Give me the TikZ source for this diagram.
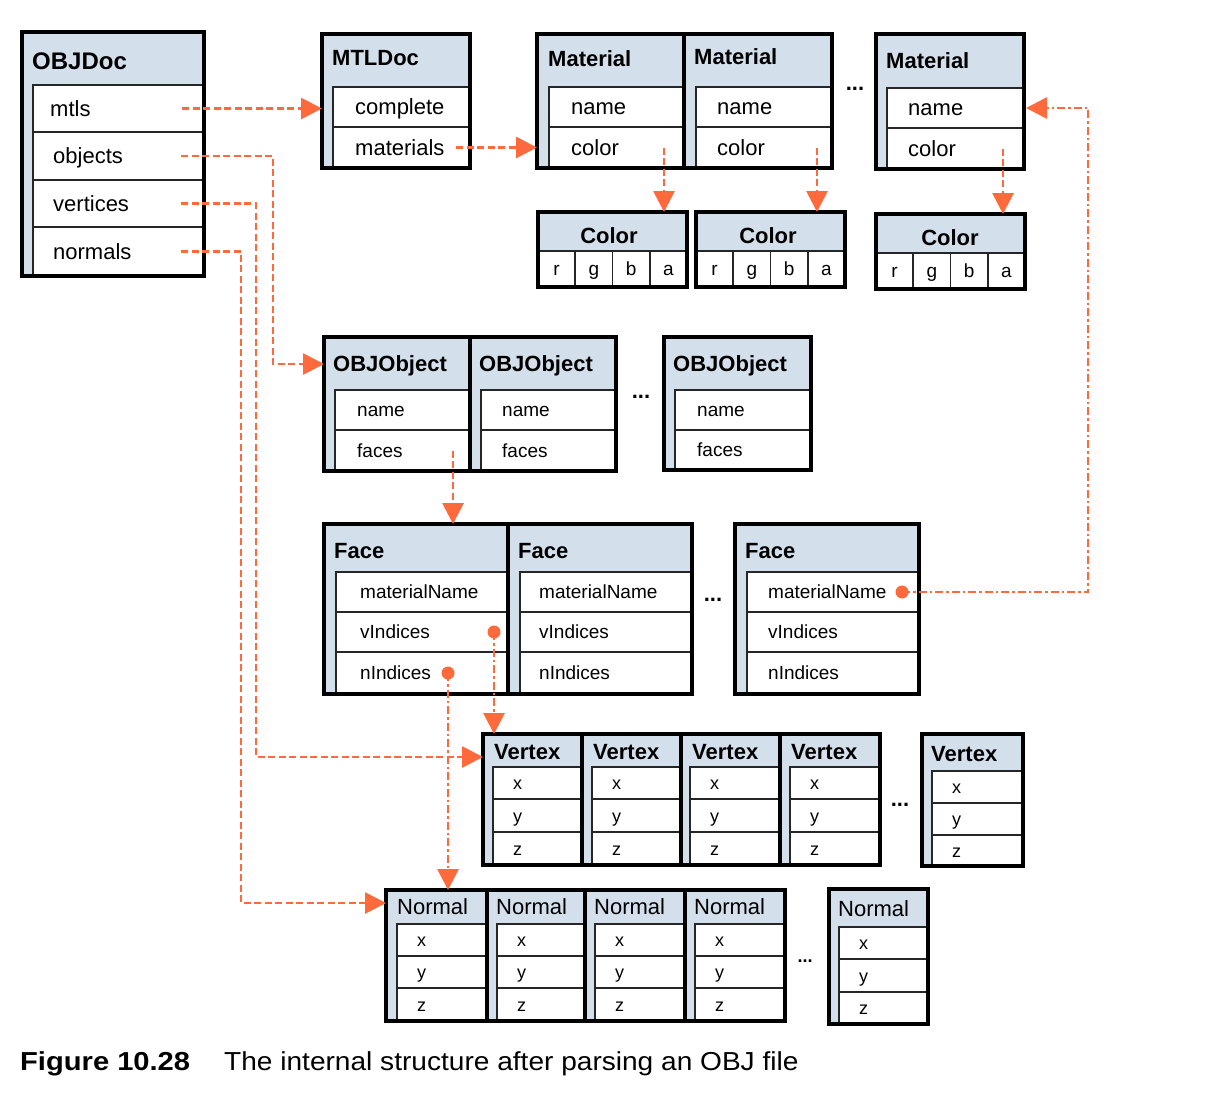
\documentclass[tikz,border=0pt]{standalone}
\usepackage{fontspec}
\setmainfont{Liberation Sans}
\usetikzlibrary{arrows.meta,fit}
\definecolor{hdr}{HTML}{D3DFEB}
\definecolor{ptrc}{HTML}{FF6A3D}
\newcommand\szA{\fontsize{22}{26}\selectfont}
\newcommand\szB{\fontsize{19}{23}\selectfont}
\newcommand\szC{\fontsize{18}{22}\selectfont}
\tikzset{
  recbox/.style={fill=hdr, draw=black, line width=3.2pt, inner sep=0pt, outer sep=0pt},
  recline/.style={draw=black, line width=3.2pt},
  cellbox/.style={fill=white, draw=black!85, line width=1.8pt, inner sep=0pt, outer sep=0pt},
  tA/.style={font=\szA, inner sep=0pt, text height=15.8pt, text depth=0pt},
  tB/.style={font=\szB, inner sep=0pt, text height=13.7pt, text depth=0pt},
  tC/.style={font=\szC, inner sep=0pt, text height=13pt, text depth=0pt},
  ttl/.style={font=\szA\bfseries, inner sep=0pt, text height=15.8pt, text depth=0pt, anchor=west},
  ttlr/.style={tA, anchor=west},
  ctrb/.style={font=\szA\bfseries, inner sep=0pt, text height=15.8pt, text depth=0pt},
  ellip/.style={font=\szA\bfseries, inner sep=0pt},
  ptr/.style={draw=ptrc, line width=2.8pt, dash pattern=on 7pt off 3.5pt, -{Triangle[length=21pt,width=21pt]}},
  ptrdd/.style={draw=ptrc, line width=2.8pt, dash pattern=on 8pt off 3pt on 2.5pt off 3pt, -{Triangle[length=21pt,width=21pt]}},
  pdot/.style={circle, fill=ptrc, minimum size=13pt, inner sep=0pt, outer sep=0pt},
}
% record box: name x1 y1 x2 y2
\newcommand\rbox[5]{\node[recbox, fit={(#2,#3)(#4,#5)}] (#1) {};}
% border overlay
\newcommand\rline[1]{\draw[recline] (#1.north west) rectangle (#1.south east);}
% field cell: name x1 y1 x2 y2 indent textstyle text
\newcommand\fcell[8]{\node[cellbox, fit={(#2,#3)(#4,#5)}] (#1) {};
  \node[#7, anchor=west] (#1t) at ([xshift=#6pt]#1.west) {#8};}
% centred cell: name x1 y1 x2 y2 text
\newcommand\ccell[6]{\node[cellbox, fit={(#2,#3)(#4,#5)}] (#1) {};
  \node[tB] (#1t) at (#1.center) {#6};}
% vertex/normal fields: prefix x1 y1 x2 y2 yh y1r y2r inner-left
\newcommand\xyz[9]{%
  \fcell{#1x}{#9}{#6}{#4}{#7}{20}{tC}{x}
  \fcell{#1y}{#9}{#7}{#4}{#8}{20}{tC}{y}
  \fcell{#1z}{#9}{#8}{#4}{#5}{20}{tC}{z}}
\begin{document}
\begin{tikzpicture}[x=1pt,y=-1pt]
\useasboundingbox (0,0) rectangle (1230,1104);

% ---------------- OBJDoc
\rbox{objdoc}{22}{32}{204}{276}
\node[ttl, font=\fontsize{24}{28}\selectfont\bfseries, text height=17.3pt] (objdoct) at (32,61) {OBJDoc};
\fcell{mtls}{33}{85}{204}{132}{17}{tA}{mtls}
\fcell{objects}{33}{132}{204}{180}{20}{tA}{objects}
\fcell{vertices}{33}{180}{204}{227}{20}{tA}{vertices}
\fcell{normals}{33}{227}{204}{276}{20}{tA}{normals}
\rline{objdoc}

% ---------------- MTLDoc
\rbox{mtldoc}{322}{34}{470}{168}
\node[ttl] (mtldoct) at (332,58) {MTLDoc};
\fcell{complete}{333}{87}{470}{127}{22}{tA}{complete}
\fcell{materials}{333}{127}{470}{168}{22}{tA}{materials}
\rline{mtldoc}

% ---------------- Materials
\rbox{mat1}{537}{34}{684}{168}
\node[ttl] (mat1t) at (548,59) {Material};
\fcell{m1name}{549}{87}{684}{127}{22}{tA}{name}
\fcell{m1color}{549}{127}{684}{168}{22}{tA}{color}
\rline{mat1}
\rbox{mat2}{684}{34}{832}{168}
\node[ttl] (mat2t) at (694,57) {Material};
\fcell{m2name}{696}{87}{832}{127}{21}{tA}{name}
\fcell{m2color}{696}{127}{832}{168}{21}{tA}{color}
\rline{mat2}
\node[ellip] (mdots) at (855,89) {...};
\rbox{mat3}{876}{34}{1024}{169}
\node[ttl] (mat3t) at (886,61) {Material};
\fcell{m3name}{887}{88}{1024}{128}{21}{tA}{name}
\fcell{m3color}{887}{128}{1024}{169}{21}{tA}{color}
\rline{mat3}

% ---------------- Colors
\rbox{col1}{538}{212}{687}{287}
\node[ctrb] (col1t) at (609,236) {Color};
\ccell{c1r}{538}{251}{575.25}{287}{r}
\ccell{c1g}{575.25}{251}{612.5}{287}{g}
\ccell{c1b}{612.5}{251}{649.75}{287}{b}
\ccell{c1a}{649.75}{251}{687}{287}{a}
\rline{col1}
\rbox{col2}{696}{212}{845}{287}
\node[ctrb] (col2t) at (768,236) {Color};
\ccell{c2r}{696}{251}{733.25}{287}{r}
\ccell{c2g}{733.25}{251}{770.5}{287}{g}
\ccell{c2b}{770.5}{251}{807.75}{287}{b}
\ccell{c2a}{807.75}{251}{845}{287}{a}
\rline{col2}
\rbox{col3}{876}{214}{1025}{289}
\node[ctrb] (col3t) at (950,238) {Color};
\ccell{c3r}{876}{253}{913.25}{289}{r}
\ccell{c3g}{913.25}{253}{950.5}{289}{g}
\ccell{c3b}{950.5}{253}{987.75}{289}{b}
\ccell{c3a}{987.75}{253}{1025}{289}{a}
\rline{col3}

% ---------------- OBJObjects
\rbox{ob1}{324}{337}{470}{471}
\node[ttl] (ob1t) at (333,364) {OBJObject};
\fcell{o1name}{335}{390}{470}{430}{22}{tB}{name}
\fcell{o1faces}{335}{430}{470}{471}{22}{tB}{faces}
\rline{ob1}
\rbox{ob2}{470}{337}{616}{471}
\node[ttl] (ob2t) at (479,364) {OBJObject};
\fcell{o2name}{481}{390}{616}{430}{21}{tB}{name}
\fcell{o2faces}{481}{430}{616}{471}{21}{tB}{faces}
\rline{ob2}
\node[ellip] (odots) at (641,397) {...};
\rbox{ob3}{664}{337}{811}{470}
\node[ttl] (ob3t) at (673,364) {OBJObject};
\fcell{o3name}{675}{390}{811}{430}{22}{tB}{name}
\fcell{o3faces}{675}{430}{811}{470}{22}{tB}{faces}
\rline{ob3}

% ---------------- Faces
\rbox{f1}{324}{524}{508}{694}
\node[ttl] (f1t) at (334,551) {Face};
\fcell{f1m}{336}{572}{508}{612}{24}{tB}{materialName}
\fcell{f1v}{336}{612}{508}{652}{24}{tB}{vIndices}
\fcell{f1n}{336}{652}{508}{694}{24}{tB}{nIndices}
\rline{f1}
\rbox{f2}{508}{524}{692}{694}
\node[ttl] (f2t) at (518,551) {Face};
\fcell{f2m}{520}{572}{692}{612}{19}{tB}{materialName}
\fcell{f2v}{520}{612}{692}{652}{19}{tB}{vIndices}
\fcell{f2n}{520}{652}{692}{694}{19}{tB}{nIndices}
\rline{f2}
\node[ellip] (fdots) at (713,600) {...};
\rbox{f3}{735}{524}{919}{694}
\node[ttl] (f3t) at (745,551) {Face};
\fcell{f3m}{747}{572}{919}{612}{21}{tB}{materialName}
\fcell{f3v}{747}{612}{919}{652}{21}{tB}{vIndices}
\fcell{f3n}{747}{652}{919}{694}{21}{tB}{nIndices}
\rline{f3}

% ---------------- Vertices
\rbox{v1}{483}{734}{582}{865}
\node[ttl] (v1t) at (494,752) {Vertex}; \xyz{v1}{483}{734}{582}{865}{767}{799}{832}{493}
\rline{v1}
\rbox{v2}{582}{734}{681}{865}
\node[ttl] (v2t) at (593,752) {Vertex}; \xyz{v2}{582}{734}{681}{865}{767}{799}{832}{592}
\rline{v2}
\rbox{v3}{681}{734}{780}{865}
\node[ttl] (v3t) at (692,752) {Vertex}; \xyz{v3}{681}{734}{780}{865}{767}{799}{832}{690}
\rline{v3}
\rbox{v4}{780}{734}{880}{865}
\node[ttl] (v4t) at (791,752) {Vertex}; \xyz{v4}{780}{734}{880}{865}{767}{799}{832}{790}
\rline{v4}
\node[ellip] (vdots) at (900,805) {...};
\rbox{v5}{922}{734}{1023}{866}
\node[ttl] (v5t) at (931,754) {Vertex}; \xyz{v5}{922}{734}{1023}{866}{771}{803}{835}{932}
\rline{v5}

% ---------------- Normals
\rbox{n1}{386}{890}{487}{1021}
\node[ttlr] (n1t) at (397,907) {Normal}; \xyz{n1}{386}{890}{487}{1021}{924}{956}{988}{397}
\rline{n1}
\rbox{n2}{487}{890}{585}{1021}
\node[ttlr] (n2t) at (496,907) {Normal}; \xyz{n2}{487}{890}{585}{1021}{924}{956}{988}{497}
\rline{n2}
\rbox{n3}{585}{890}{685}{1021}
\node[ttlr] (n3t) at (594,907) {Normal}; \xyz{n3}{585}{890}{685}{1021}{924}{956}{988}{595}
\rline{n3}
\rbox{n4}{685}{890}{785}{1021}
\node[ttlr] (n4t) at (694,907) {Normal}; \xyz{n4}{685}{890}{785}{1021}{924}{956}{988}{695}
\rline{n4}
\node[font=\szC\bfseries, inner sep=0pt] (ndots) at (805,961) {...};
\rbox{n5}{829}{889}{928}{1024}
\node[ttlr] (n5t) at (838,909) {Normal}; \xyz{n5}{829}{889}{928}{1024}{927}{959}{992}{839}
\rline{n5}

% ---------------- connectors
\coordinate (mtlsS) at ([xshift=-22pt]mtls.east);
\draw[ptr] (mtlsS) -- (mtldoc.west |- mtlsS);
\coordinate (matS) at ([xshift=-14pt]materials.east);
\draw[ptr] (matS) -- (mat1.west |- matS);
\coordinate (c1S) at ([xshift=-20pt]m1color.east);
\draw[ptr] (c1S) -- (c1S |- col1.north);
\coordinate (c2S) at ([xshift=-15pt]m2color.east);
\draw[ptr] (c2S) -- (c2S |- col2.north);
\coordinate (c3S) at ([xshift=-21pt]m3color.east);
\draw[ptr] (c3S) -- (c3S |- col3.north);

\coordinate (objS) at ([xshift=-23pt]objects.east);
\coordinate (objB) at (273,364);
\draw[ptr] (objS) -| (objB) -- (ob1.west |- objB);
\coordinate (vtxS) at ([xshift=-23pt]vertices.east);
\coordinate (vtxB) at (256,757);
\draw[ptr] (vtxS) -| (vtxB) -- (v1.west |- vtxB);
\coordinate (nrmS) at ([xshift=-23pt]normals.east);
\coordinate (nrmB) at (241,903);
\draw[ptr] (nrmS) -| (nrmB) -- (n1.west |- nrmB);

\coordinate (facS) at ([xshift=-17pt]o1faces.east);
\draw[ptr] (facS) -- (facS |- f1.north);

\node[pdot] (dv) at ([xshift=-14pt]f1v.east) {};
\draw[ptrdd] (dv.center) -- (dv.center |- v1.north);
\node[pdot] (dn) at ([xshift=-60pt]f1n.east) {};
\draw[ptrdd] (dn.center) -- (dn.center |- n1.north);
\node[pdot] (dm) at ([xshift=-17pt]f3m.east) {};
\coordinate (mB) at (1088,0);
\draw[ptrdd] (dm.center) -| (mB |- m3name.east) -- ([xshift=2pt]m3name.east);

% ---------------- caption
\node[anchor=west, inner sep=0pt, text height=18.7pt, text depth=0pt, font=\fontsize{26}{30}\selectfont\bfseries] (capa) at (20,1061) {\scalebox{1.12}[1]{Figure 10.28}};
\node[anchor=west, inner sep=0pt, text height=18.7pt, text depth=0pt, font=\fontsize{26}{30}\selectfont] (capb) at (224,1061) {\scalebox{1.08}[1]{The internal structure after parsing an OBJ file}};
\end{tikzpicture}
\end{document}
